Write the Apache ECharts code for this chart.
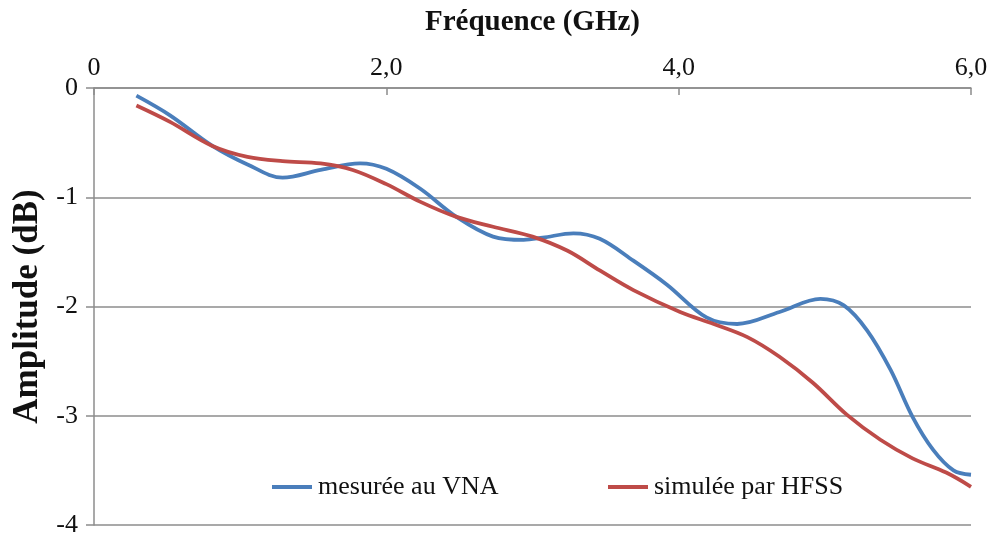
<!DOCTYPE html>
<html>
<head>
<meta charset="utf-8">
<script src="https://cdn.jsdelivr.net/npm/echarts@6/dist/echarts.min.js"></script>
<style>
  html, body { margin: 0; padding: 0; background: #fff; }
  #chart { width: 990px; height: 533px; }
</style>
</head>
<body>
<div id="chart"></div>
<script>
// Measured with the VNA: frequency (GHz) and amplitude (dB)
const measuredFreq = [0.29, 0.52, 0.81, 1.05, 1.29, 1.55, 1.82, 2.00, 2.23, 2.48, 2.73, 2.94, 3.07, 3.28, 3.46, 3.69, 3.92, 4.19, 4.40, 4.69, 4.97, 5.13, 5.29, 5.45, 5.60, 5.74, 5.88, 6.00];
const measured     = [-0.07, -0.25, -0.53, -0.70, -0.82, -0.75, -0.69, -0.74, -0.92, -1.18, -1.36, -1.39, -1.37, -1.33, -1.38, -1.58, -1.80, -2.10, -2.16, -2.05, -1.93, -1.99, -2.22, -2.58, -3.01, -3.31, -3.50, -3.54];
// Simulated with HFSS: frequency (GHz) and amplitude (dB)
const simulatedFreq = [0.29, 0.52, 0.81, 1.05, 1.29, 1.55, 1.77, 2.00, 2.23, 2.48, 2.73, 3.00, 3.24, 3.46, 3.69, 4.01, 4.24, 4.47, 4.69, 4.92, 5.15, 5.38, 5.60, 5.83, 6.00];
const simulated     = [-0.16, -0.31, -0.53, -0.63, -0.67, -0.69, -0.75, -0.88, -1.04, -1.18, -1.27, -1.36, -1.49, -1.67, -1.85, -2.05, -2.16, -2.28, -2.46, -2.70, -2.99, -3.22, -3.39, -3.52, -3.65];
const seriesNames = ['mesurée au VNA', 'simulée par HFSS'];
const seriesColors = ['#4a7ebb', '#be4b48'];

const font = '"Liberation Serif", "Times New Roman", serif';
const pair = (xs, ys) => xs.map((x, i) => [x, ys[i]]);

const legendItem = (name, left) => ({
  data: [name],
  left: left, top: 469,
  itemWidth: 40, itemHeight: 4, icon: 'rect',
  textStyle: { fontFamily: font, fontSize: 26, color: '#111', padding: [0, 0, 0, 1] }
});

const chart = echarts.init(document.getElementById('chart'), null, { renderer: 'canvas' });
chart.setOption({
  animation: false,
  backgroundColor: '#fff',
  grid: { left: 94, right: 19, top: 88, bottom: 8, containLabel: false, outerBoundsMode: 'none' },
  legend: [legendItem(seriesNames[0], 267), legendItem(seriesNames[1], 603)],
  xAxis: {
    type: 'value', position: 'top',
    min: 0, max: 6, interval: 2,
    name: 'Fréquence (GHz)', nameLocation: 'middle', nameGap: 51,
    nameTextStyle: { fontFamily: font, fontSize: 29, fontWeight: 'bold', color: '#111' },
    axisLine: { show: true, lineStyle: { color: '#8c8c8c', width: 1.5 } },
    axisTick: { show: true, inside: true, length: 7, lineStyle: { color: '#8c8c8c', width: 1.5 } },
    axisLabel: {
      fontFamily: font, fontSize: 26, color: '#111', margin: 7,
      formatter: v => v === 0 ? '0' : v.toFixed(1).replace('.', ',')
    },
    splitLine: { show: false }
  },
  yAxis: {
    type: 'value',
    min: -4, max: 0, interval: 1,
    name: 'Amplitude (dB)', nameLocation: 'middle', nameGap: 48, nameRotate: 90,
    nameTextStyle: { fontFamily: font, fontSize: 35, fontWeight: 'bold', color: '#111' },
    axisLine: { show: true, lineStyle: { color: '#8c8c8c', width: 1.5 } },
    axisTick: { show: true, length: 8, lineStyle: { color: '#8c8c8c', width: 1.5 } },
    axisLabel: { fontFamily: font, fontSize: 26, color: '#111', margin: 16 },
    splitLine: { show: true, lineStyle: { color: '#8c8c8c', width: 1.5 } }
  },
  series: [
    {
      name: seriesNames[0], type: 'line', smooth: 0.35, showSymbol: false,
      data: pair(measuredFreq, measured),
      lineStyle: { color: seriesColors[0], width: 3.8 }, itemStyle: { color: seriesColors[0] }
    },
    {
      name: seriesNames[1], type: 'line', smooth: 0.35, showSymbol: false,
      data: pair(simulatedFreq, simulated),
      lineStyle: { color: seriesColors[1], width: 3.8 }, itemStyle: { color: seriesColors[1] }
    }
  ]
});
</script>
</body>
</html>
